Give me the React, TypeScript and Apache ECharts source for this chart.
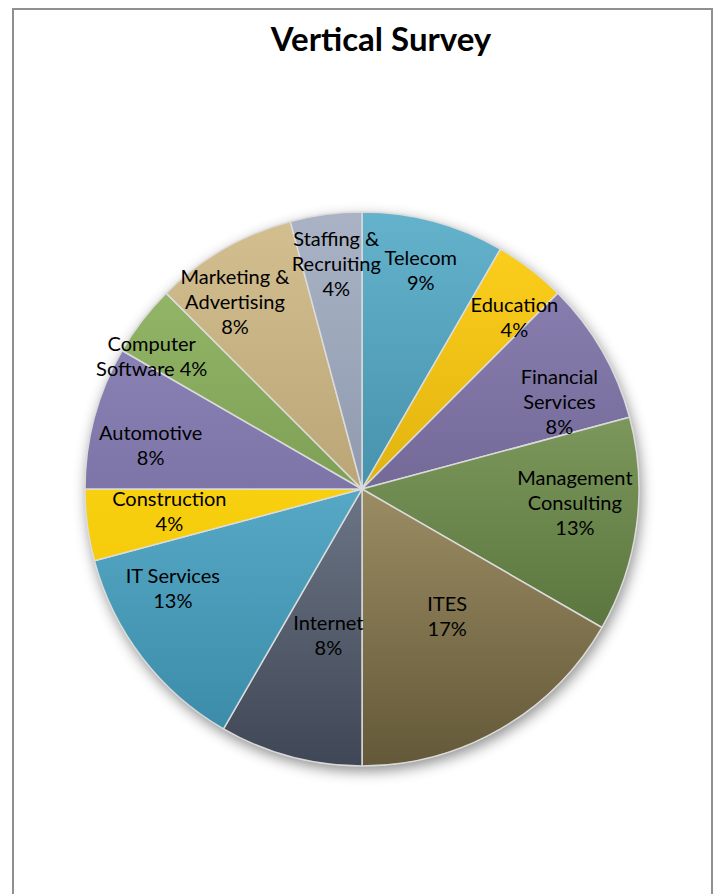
import React, { useEffect, useRef } from "react";
import * as echarts from "echarts";

// ---- data ----
const categories = [
  "Telecom",
  "Education",
  "Financial Services",
  "Management Consulting",
  "ITES",
  "Internet",
  "IT Services",
  "Construction",
  "Automotive",
  "Computer Software",
  "Marketing & Advertising",
  "Staffing & Recruiting",
];
const counts = [2, 1, 2, 3, 4, 2, 3, 1, 2, 1, 2, 1];
// how the label text is wrapped (as in the original)
const labelNames = [
  "Telecom",
  "Education",
  "Financial\nServices",
  "Management\nConsulting",
  "ITES",
  "Internet",
  "IT Services",
  "Construction",
  "Automotive",
  "Computer\nSoftware",
  "Marketing &\nAdvertising",
  "Staffing &\nRecruiting",
];
const labelJoin = ["\n", "\n", "\n", "\n", "\n", "\n", "\n", "\n", "\n", " ", "\n", "\n"];
const title = "Vertical Survey";

// ---- styles ----
const topColors = ["#64B2CC", "#FFD21E", "#8F86B8", "#9DB878", "#D2C08E", "#99A3B4", "#74C8E6", "#FFE21E", "#958DC0", "#9ABD6E", "#D4BF90", "#A9B3C5"];
const bottomColors = ["#2A7390", "#C39400", "#574E78", "#44602B", "#635838", "#3F4756", "#3888A5", "#F0BE00", "#655D90", "#62833C", "#A28C5E", "#76829A"];
// label placement (fraction of radius, angle shift in degrees), like Excel's best fit
const labelRadius = [0.82, 0.83, 0.78, 0.77, 0.55, 0.54, 0.77, 0.7, 0.78, 0.9, 0.82, 0.82];
const labelShift = [0, 4, 6, -4, -4, -2, 10, 1, -3, -5, -4, 1];

const CX = 362;
const CY = 489;
const R = 277;

export default function App() {
  const ref = useRef<HTMLDivElement>(null);
  useEffect(() => {
    document.body.style.margin = "0";
    const chart = echarts.init(ref.current!, null, { renderer: "svg" });
    const total = counts.reduce((a, b) => a + b, 0);
    const mids: number[] = [];
    let acc = 0;
    counts.forEach((c) => {
      mids.push(((acc + c / 2) / total) * 360);
      acc += c;
    });
    const font = "Lato, 'Open Sans', sans-serif";
    chart.setOption({
      animation: false,
      backgroundColor: "#ffffff",
      graphic: [
        {
          type: "rect",
          shape: { x: 13, y: 9, width: 699, height: 900 },
          style: { fill: "none", stroke: "#8f8f8f", lineWidth: 2 },
          z: 0,
        },
        {
          type: "text",
          x: 381,
          y: 38,
          style: {
            text: title,
            font: `bold 33px ${font}`,
            fill: "#000000",
            textAlign: "center",
            textVerticalAlign: "middle",
          },
          z: 10,
        },
      ],
      series: [
        {
          type: "pie",
          silent: true,
          center: [CX, CY],
          radius: R,
          label: { show: false },
          labelLine: { show: false },
          z: 1,
          itemStyle: {
            color: "#ffffff",
            shadowBlur: 14,
            shadowColor: "rgba(0,0,0,0.45)",
            shadowOffsetX: 2,
            shadowOffsetY: 5,
          },
          data: [{ value: 1, name: "" }],
        },
        {
          type: "pie",
          center: [CX, CY],
          radius: R,
          startAngle: 90,
          clockwise: true,
          percentPrecision: 0,
          z: 2,
          itemStyle: { borderColor: "rgba(220,220,220,0.95)", borderWidth: 1.5 },
          label: {
            show: true,
            position: "inside",
            color: "#000000",
            fontFamily: font,
            fontSize: 20,
            lineHeight: 25,
            align: "center",
            formatter: (p: any) => `${labelNames[p.dataIndex]}${labelJoin[p.dataIndex]}${p.percent}%`,
          },
          labelLine: { show: false },
          labelLayout: (p: any) => {
            const i = p.dataIndex;
            const a = ((mids[i] + labelShift[i]) * Math.PI) / 180;
            const rr = R * labelRadius[i];
            return {
              x: CX + rr * Math.sin(a),
              y: CY - rr * Math.cos(a),
              align: "center",
              verticalAlign: "middle",
            };
          },
          data: categories.map((name, i) => ({
            name,
            value: counts[i],
            itemStyle: {
              color: {
                type: "linear",
                x: 0,
                y: CY - R,
                x2: 0,
                y2: CY + R,
                global: true,
                colorStops: [
                  { offset: 0, color: topColors[i] },
                  { offset: 1, color: bottomColors[i] },
                ],
              },
            },
          })),
        },
      ],
    });
    return () => chart.dispose();
  }, []);
  return <div ref={ref} style={{ width: 717, height: 894 }} />;
}
